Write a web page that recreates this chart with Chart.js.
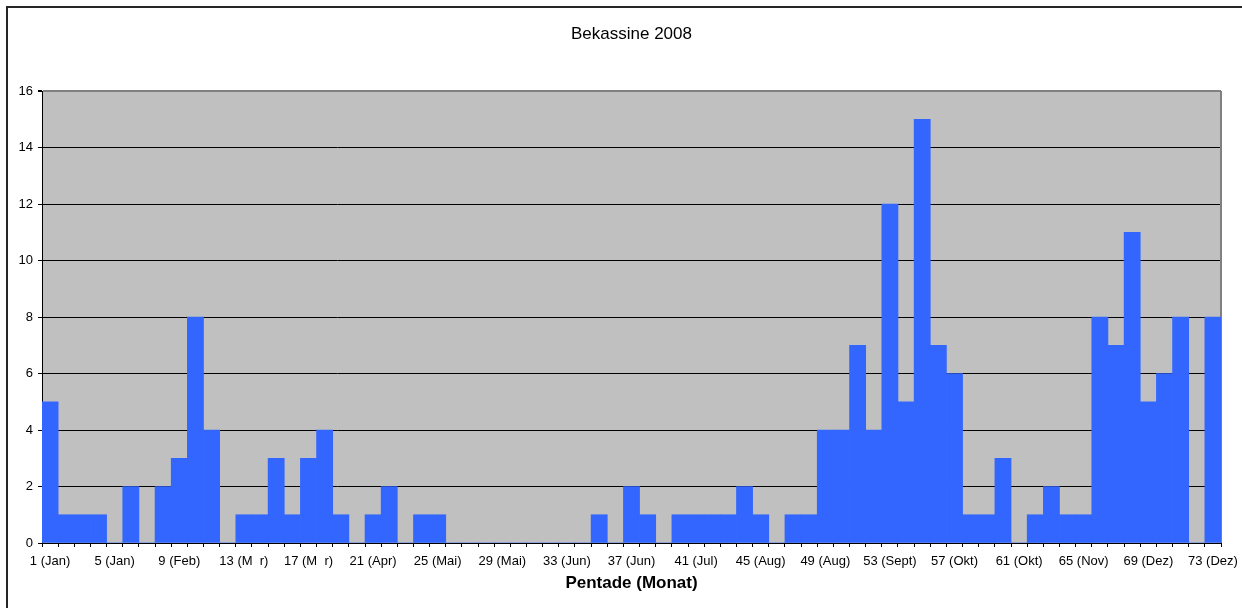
<!DOCTYPE html>
<html>
<head>
<meta charset="utf-8">
<script src="https://cdn.jsdelivr.net/npm/chart.js@4"></script>
<style>
  html, body { margin: 0; padding: 0; background: #fff; }
  canvas { display: block; }
</style>
</head>
<body>
<canvas id="chBek" width="1242" height="608"></canvas>
<script>
// Pentaden 1..73
const pentads = [1,2,3,4,5,6,7,8,9,10,11,12,13,14,15,16,17,18,19,20,21,22,23,24,25,26,27,28,29,30,
  31,32,33,34,35,36,37,38,39,40,41,42,43,44,45,46,47,48,49,50,51,52,53,54,55,56,57,58,59,60,
  61,62,63,64,65,66,67,68,69,70,71,72,73];

// Anzahl pro Pentade
const counts = [5,1,1,1,0,2,0,2,3,8, 4,0,1,1,3,1,3,4,1,0, 1,2,0,1,1,0,0,0,0,0,
  0,0,0,0,1,0,2,1,0,1, 1,1,1,2,1,0,1,1,4,4, 7,4,12,5,15,7,6,1,1,3,
  0,1,2,1,1,8,7,11,5,6, 8,0,8];

// Beschriftung jeder 4. Pentade
const tickLabels = ['1 (Jan)','5 (Jan)','9 (Feb)','13 (M  r)','17 (M  r)','21 (Apr)','25 (Mai)',
  '29 (Mai)','33 (Jun)','37 (Jun)','41 (Jul)','45 (Aug)','49 (Aug)','53 (Sept)','57 (Okt)',
  '61 (Okt)','65 (Nov)','69 (Dez)','73 (Dez)'];

const yTicks = [0,2,4,6,8,10,12,14,16];

Chart.defaults.font.family = '"Liberation Sans", Arial, sans-serif';
Chart.defaults.color = '#000';

// plot background + frame
const frame = {
  id: 'frame',
  beforeDraw(chart) {
    const { ctx, chartArea: a } = chart;
    ctx.save();
    ctx.fillStyle = '#fff';
    ctx.fillRect(0, 0, chart.width, chart.height);
    ctx.strokeStyle = '#262626';
    ctx.lineWidth = 2;
    ctx.strokeRect(7, 7, chart.width + 50, chart.height + 50);
    ctx.fillStyle = '#c0c0c0';
    ctx.fillRect(a.left, a.top, a.right - a.left, a.bottom - a.top);
    ctx.restore();
  },
  beforeDatasetsDraw(chart) {
    const { ctx, chartArea: a } = chart;
    ctx.save();
    ctx.strokeStyle = '#808080';
    ctx.lineWidth = 2;
    ctx.beginPath();
    ctx.moveTo(a.right, a.top);
    ctx.lineTo(a.right, a.bottom);
    ctx.stroke();
    ctx.restore();
  }
};

new Chart(document.getElementById('chBek'), {
  type: 'bar',
  data: {
    labels: pentads,
    datasets: [{
      label: 'Bekassine 2008',
      data: counts,
      backgroundColor: '#3366ff',
      borderWidth: 0,
      barPercentage: 1,
      categoryPercentage: 1,
    }],
  },
  options: {
    responsive: false,
    animation: false,
    layout: { padding: { top: 0, right: 21, bottom: 0, left: 0 } },
    plugins: {
      legend: { display: false },
      tooltip: { enabled: false },
      title: {
        display: true,
        fullSize: false,
        text: 'Bekassine 2008',
        color: '#000',
        font: { size: 17, weight: 'normal' },
        padding: { top: 24, bottom: 46.6 },
      },
    },
    scales: {
      x: {
        offset: true,
        afterFit: s => { s.height = 65; s.paddingLeft = 0; s.paddingRight = 0; },
        border: { color: '#000', width: 1 },
        grid: { offset: true, drawOnChartArea: false, drawTicks: true, tickLength: 4, tickColor: '#000' },
        ticks: {
          autoSkip: false, maxRotation: 0, minRotation: 0, padding: 7,
          font: { size: 13 }, color: '#000',
          callback: (v, i) => (i % 4 === 0 ? tickLabels[i / 4] : ''),
        },
        title: {
          display: true, text: 'Pentade (Monat)', color: '#000',
          font: { size: 17, weight: 'bold' },
          padding: { top: 4, bottom: 14 },
        },
      },
      y: {
        min: 0, max: 16,
        afterFit: s => { s.width = 42; },
        afterBuildTicks: s => { s.ticks = yTicks.map(v => ({ value: v })); },
        border: { color: '#000', width: 1 },
        grid: {
          color: c => (c.tick && c.tick.value === 16 ? '#808080' : '#000'),
          lineWidth: c => (c.tick && c.tick.value === 16 ? 2 : 1),
          tickLength: 4, tickColor: '#000',
        },
        ticks: { stepSize: 2, padding: 5, font: { size: 13 }, color: '#000' },
      },
    },
  },
  plugins: [frame],
});
</script>
</body>
</html>
